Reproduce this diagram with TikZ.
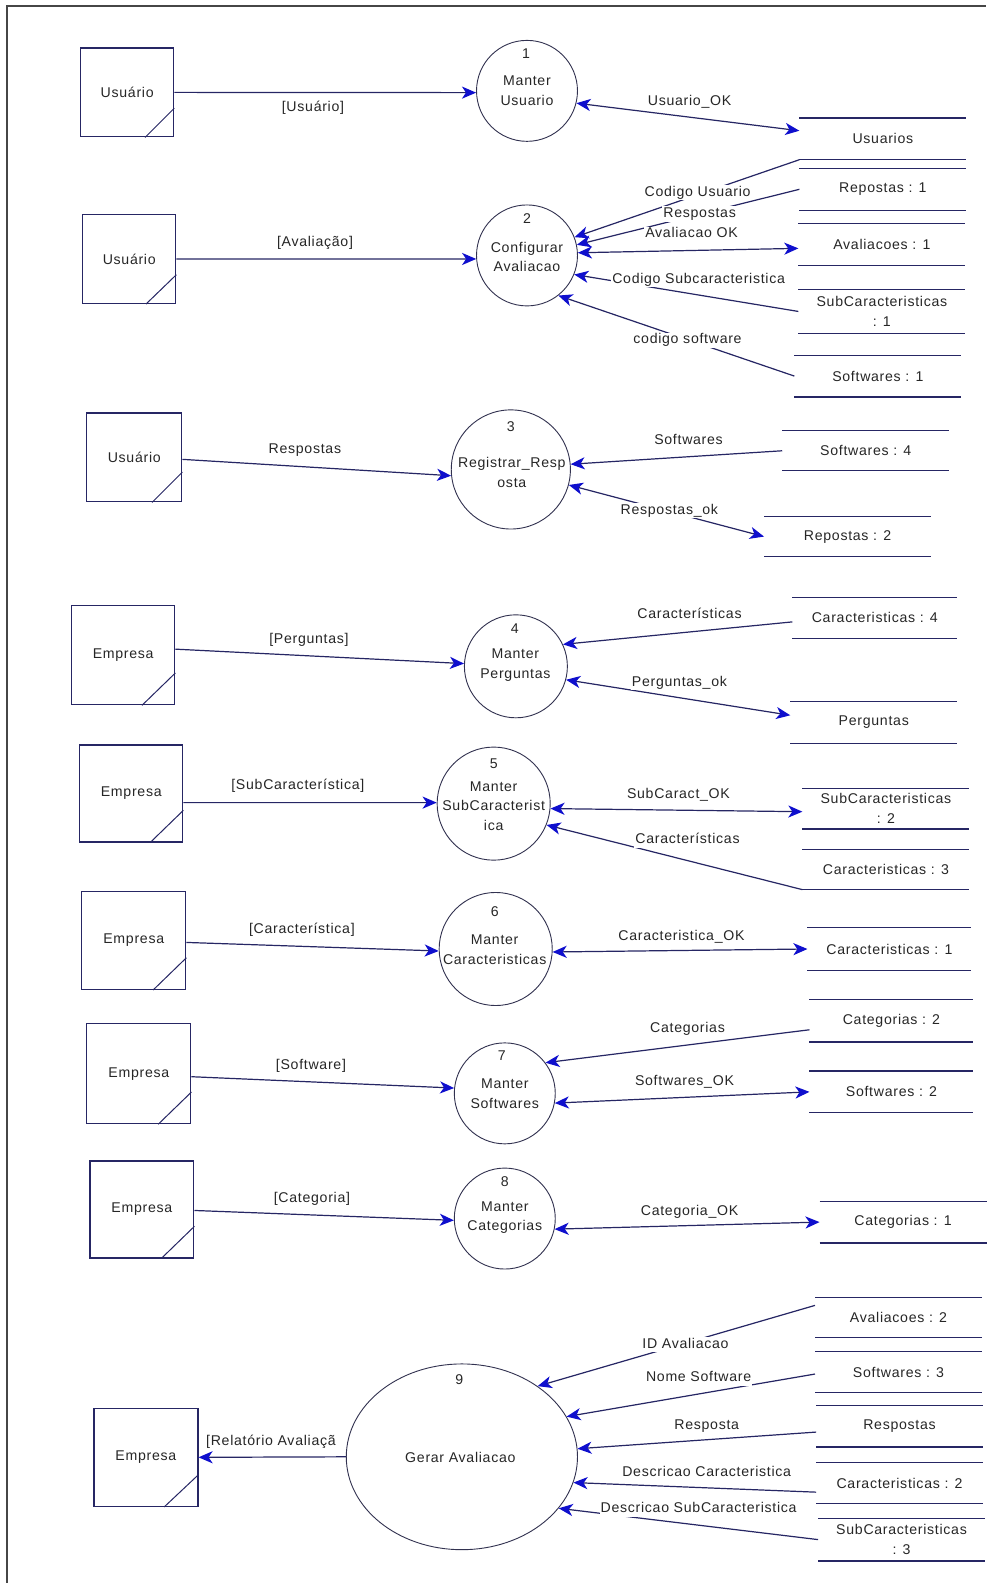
\documentclass[tikz,border=0pt]{standalone}
\usepackage{fontspec}
\setmainfont{Liberation Sans}[LetterSpace=5]
\usetikzlibrary{shapes.geometric,arrows.meta}
\definecolor{linec}{RGB}{38,38,100}
\definecolor{arrowc}{RGB}{15,15,205}
\definecolor{circc}{RGB}{50,50,80}
\definecolor{framec}{RGB}{70,70,70}
\tikzset{
  txt/.style={font=\fontsize{14}{19.5}\selectfont, text=black!85, inner sep=1pt},
  ubox/.style={txt, draw=linec, line width=1.3pt, minimum width=92pt, minimum height=88pt, inner sep=0pt},
  ebox/.style={txt, draw=linec, line width=1.3pt, minimum width=103pt, minimum height=97pt, inner sep=0pt},
  corner/.style={draw=linec, line width=1pt},
  proc/.style={circle, draw=circc, line width=0.9pt, inner sep=0pt},
  store/.style={txt, minimum width=165pt, minimum height=41pt, inner sep=0pt, align=center},
  storeline/.style={draw=linec, line width=1.2pt},
  tip/.tip={Stealth[length=14pt,width=12pt,inset=4pt,color=arrowc]},
  flow/.style={draw=linec, line width=1.2pt, -tip},
  dflow/.style={draw=linec, line width=1.2pt, tip-tip},
  lbl/.style={txt, fill=white, inner sep=1pt, text height=10pt, text depth=3pt},
  ptxt/.style={txt, align=center},
}
\newcommand\storelines[1]{\draw[storeline] (#1.north west) -- (#1.north east) (#1.south west) -- (#1.south east);}
\newcommand\boxcorner[3]{\draw[corner] ([xshift=-#2]#1.south east) -- ([yshift=#3]#1.south east);}
\begin{document}
\begin{tikzpicture}[x=1pt,y=-1pt]
\useasboundingbox (0,0) rectangle (977,1568);
\draw[framec, line width=1.3pt] (7,1568) -- (7,6) -- (977,6);

% external entities
\node[ubox] (u1) at (126,91.5) {Usuário};
\node[ubox] (u2) at (128,256.5) {Usuário};
\node[ubox, minimum width=94pt] (u3) at (133,453) {Usuário};
\node[ebox, minimum width=102pt, minimum height=98pt] (e4) at (122,649) {Empresa};
\node[ebox, minimum width=102pt, minimum height=96pt] (e5) at (130,786) {Empresa};
\node[ebox] (e6) at (132.5,931.5) {Empresa};
\node[ebox, minimum height=99pt] (e7) at (137.5,1063.5) {Empresa};
\node[ebox, minimum height=96pt] (e8) at (140.5,1198) {Empresa};
\node[ebox] (e9) at (144.5,1443.5) {Empresa};
\boxcorner{u1}{29pt}{29pt}
\boxcorner{u2}{30pt}{29pt}
\boxcorner{u3}{30pt}{30pt}
\boxcorner{e4}{33pt}{32pt}
\boxcorner{e5}{33pt}{32pt}
\boxcorner{e6}{33pt}{32pt}
\boxcorner{e7}{33pt}{32pt}
\boxcorner{e8}{33pt}{32pt}
\boxcorner{e9}{34pt}{32pt}

% processes
\node[proc, minimum size=100pt] (c1) at (522,90) {};
\node[proc, minimum size=100pt] (c2) at (522,253) {};
\node[proc, minimum size=118pt] (c3) at (506,465) {};
\node[proc, minimum size=102pt] (c4) at (511,660) {};
\node[proc, minimum size=112pt] (c5) at (489,796) {};
\node[proc, minimum size=112pt] (c6) at (491,940) {};
\node[proc, minimum size=100pt] (c7) at (500,1083) {};
\node[proc, minimum size=100pt] (c8) at (500,1207) {};
\node[proc, ellipse, minimum width=229pt, minimum height=184pt] (c9) at (457.5,1443) {};

\node[txt] (n1) at (521,53) {1};
\node[txt] (n2) at (522,216) {2};
\node[txt] (n3) at (506,423) {3};
\node[txt] (n4) at (510,623) {4};
\node[txt] (n5) at (489,756) {5};
\node[txt] (n6) at (490,903) {6};
\node[txt] (n7) at (497,1046) {7};
\node[txt] (n8) at (500,1170) {8};
\node[txt] (n9) at (455,1367) {9};
\node[ptxt] (t1) at (522,90) {Manter\\Usuario};
\node[ptxt] (t2) at (522,254.5) {Configurar\\Avaliacao};
\node[ptxt] (t3) at (507,468) {Registrar\_Resp\\osta};
\node[ptxt] (t4) at (510.5,658.5) {Manter\\Perguntas};
\node[ptxt] (t5) at (489,798.5) {Manter\\SubCaracterist\\ica};
\node[ptxt] (t6) at (490,940.5) {Manter\\Caracteristicas};
\node[ptxt] (t7) at (500,1083) {Manter\\Softwares};
\node[ptxt] (t8) at (500,1206) {Manter\\Categorias};
\node[ptxt] (t9) at (456,1444) {Gerar Avaliacao};

% data stores
\node[store] (sUsuarios) at (874.5,137.5) {Usuarios};
\node[store] (sResp1) at (874.5,187.5) {Repostas : 1};
\node[store] (sAval1) at (873.5,242) {Avaliacoes : 1};
\node[store, minimum height=43pt] (sSub1) at (873.5,308.5) {SubCaracteristicas\\: 1};
\node[store] (sSoft1) at (869.5,372.5) {Softwares : 1};
\node[store, minimum height=39pt] (sSoft4) at (857.5,446.5) {Softwares : 4};
\node[store, minimum height=39pt] (sResp2) at (839.5,531.5) {Repostas : 2};
\node[store, minimum width=163pt, minimum height=40pt] (sCar4) at (866.5,612) {Caracteristicas : 4};
\node[store] (sPerg) at (865.5,715.5) {Perguntas};
\node[store, minimum height=40pt] (sSub2) at (877.5,801) {SubCaracteristicas\\: 2};
\node[store, minimum height=39pt] (sCar3) at (877.5,861.5) {Caracteristicas : 3};
\node[store, minimum width=162pt, minimum height=42pt] (sCar1) at (881,940) {Caracteristicas : 1};
\node[store, minimum width=162pt, minimum height=42pt] (sCat2) at (883,1011) {Categorias : 2};
\node[store, minimum width=162pt] (sSoft2) at (883,1081.5) {Softwares : 2};
\node[store] (sCat1) at (894.5,1210.5) {Categorias : 1};
\node[store, minimum height=40pt] (sAval2) at (890,1305) {Avaliacoes : 2};
\node[store, minimum height=40pt] (sSoft3) at (890,1359) {Softwares : 3};
\node[store] (sResp) at (891,1412.5) {Respostas};
\node[store, minimum height=40pt] (sCar2) at (891,1469) {Caracteristicas : 2};
\node[store, minimum height=42pt] (sSub3) at (893,1525) {SubCaracteristicas\\: 3};
\foreach \s in {sUsuarios,sResp1,sAval1,sSub1,sSoft1,sSoft4,sResp2,sCar4,sPerg,sSub2,sCar3,sCar1,sCat2,sSoft2,sCat1,sAval2,sSoft3,sResp,sCar2,sSub3}{\storelines{\s}}

% flows
\draw[flow] (u1.east) -- (c1.182);
\draw[dflow] (c1.-14) -- ([yshift=8pt]sUsuarios.west);
\draw[flow] (u2.east) -- (c2.184);
\draw[flow] (sUsuarios.south west) -- (c2.21);
\draw[flow] (sResp1.west) -- (c2.12);
\draw[dflow] (c2.3) -- ([yshift=-4pt]sAval1.west);
\draw[flow] (sSub1.west) -- (c2.-22);
\draw[flow] (sSoft1.west) -- (c2.-52);
\draw[flow] ([yshift=-2pt]u3.east) -- (c3.186);
\draw[flow] (sSoft4.west) -- (c3.5);
\draw[dflow] (c3.-15) -- (sResp2.west);
\draw[flow] ([yshift=6pt]e4.east) -- (c4.177);
\draw[flow] ([yshift=-4pt]sCar4.west) -- (c4.25);
\draw[dflow] (c4.-15) -- ([yshift=7pt]sPerg.west);
\draw[flow] ([yshift=-9pt]e5.east) -- (c5.179);
\draw[dflow] (c5.-5) -- ([yshift=-3pt]sSub2.west);
\draw[flow] (sCar3.south west) -- (c5.-22);
\draw[flow] ([yshift=-2pt]e6.east) -- (c6.182);
\draw[dflow] (c6.-3) -- (sCar1.west);
\draw[flow] ([yshift=-3pt]e7.east) -- (c7.174);
\draw[flow] ([yshift=-9pt]sCat2.west) -- (c7.37);
\draw[dflow] (c7.-11) -- (sSoft2.west);
\draw[flow] ([yshift=-1pt]e8.east) -- (c8.182);
\draw[dflow] (c8.-12) -- (sCat1.west);
\draw[flow] (c9.west) -- (e9.east);
\draw[flow] ([yshift=12pt]sAval2.west) -- (c9.43);
\draw[flow] ([yshift=-2pt]sSoft3.west) -- (c9.21);
\draw[flow] ([yshift=-6pt]sResp.west) -- (c9.4);
\draw[flow] ([yshift=-9pt]sCar2.west) -- (c9.-13);
\draw[flow] (sSub3.west) -- (c9.-28);

% flow labels
\node[lbl] (l1a) at (310,107) {[Usuário]};
\node[lbl] (l1b) at (683,101) {Usuario\_OK};
\node[lbl] (l2a) at (312,241) {[Avaliação]};
\node[lbl] (l2b) at (691,191) {Codigo Usuario};
\node[lbl] (l2c) at (693,212) {Respostas};
\node[lbl] (l2d) at (685,232) {Avaliacao OK};
\node[lbl] (l2e) at (692,277) {Codigo Subcaracteristica};
\node[lbl] (l2f) at (681,337) {codigo software};
\node[lbl] (l3a) at (302,446) {Respostas};
\node[lbl] (l3b) at (682,437) {Softwares};
\node[lbl] (l3c) at (663,506) {Respostas\_ok};
\node[lbl] (l4a) at (306,634) {[Perguntas]};
\node[lbl] (l4b) at (683,609) {Características};
\node[lbl] (l4c) at (673,676) {Perguntas\_ok};
\node[lbl] (l5a) at (295,779) {[SubCaracterística]};
\node[lbl] (l5b) at (672,787) {SubCaract\_OK};
\node[lbl] (l5c) at (681,832) {Características};
\node[lbl] (l6a) at (299,921) {[Característica]};
\node[lbl] (l6b) at (675,928) {Caracteristica\_OK};
\node[lbl] (l7a) at (308,1056) {[Software]};
\node[lbl] (l7b) at (681,1019) {Categorias};
\node[lbl] (l7c) at (678,1072) {Softwares\_OK};
\node[lbl] (l8a) at (309,1188) {[Categoria]};
\node[lbl] (l8b) at (683,1200) {Categoria\_OK};
\node[lbl, anchor=west] (l9a) at (203,1428) {[Relatório Avaliaçã};
\node[lbl] (l9b) at (679,1332) {ID Avaliacao};
\node[lbl] (l9c) at (692,1365) {Nome Software};
\node[lbl] (l9d) at (700,1412) {Resposta};
\node[lbl] (l9e) at (700,1459) {Descricao Caracteristica};
\node[lbl] (l9f) at (692,1495) {Descricao SubCaracteristica};
\end{tikzpicture}
\end{document}
